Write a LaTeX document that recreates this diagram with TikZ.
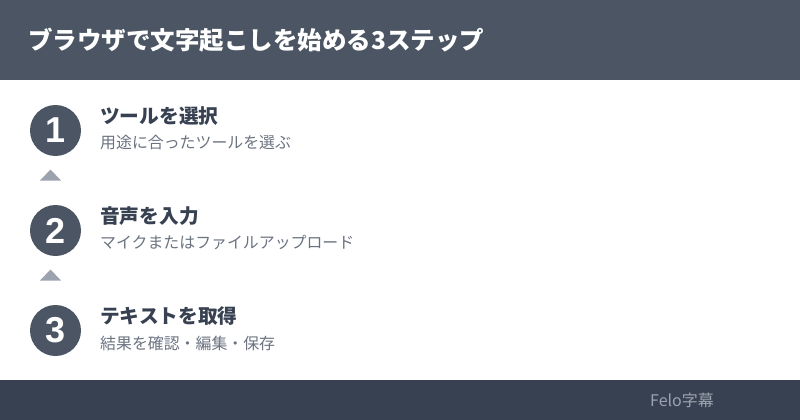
\documentclass[tikz,border=0pt]{standalone}
\usepackage{fontspec}
\setmainfont{Noto Sans CJK JP}
\newfontfamily\numfont{Liberation Sans}
\usetikzlibrary{
  positioning,
  calc
}
\definecolor{headbg}{HTML}{4B5563}
\definecolor{footbg}{HTML}{374151}
\definecolor{titlefg}{HTML}{374151}
\definecolor{descfg}{HTML}{6B7280}
\definecolor{markfg}{HTML}{9CA3AF}
\tikzset{
  stepnum/.style = {circle, fill=headbg, minimum size=51pt, inner sep=0pt,
                    text=white, font=\numfont\bfseries\fontsize{36}{36}\selectfont},
  steptitle/.style = {anchor=west, inner sep=0pt, text=titlefg,
                      font=\bfseries\fontsize{19.7}{19.7}\selectfont},
  stepdesc/.style = {anchor=west, inner sep=0pt, text=descfg,
                     font=\fontsize{15.9}{15.9}\selectfont},
  upmark/.style = {fill=markfg}
}

\begin{document}
\begin{tikzpicture}[x=1pt, y=-1pt]
    \useasboundingbox (0,0) rectangle (800,420);
    \fill[headbg] (0,0) rectangle (800,80);
    \fill[footbg] (0,380) rectangle (800,420);

    \node[anchor=west, inner sep=0pt, text=white,
          font=\bfseries\fontsize{24.5}{24.5}\selectfont] (title) at (28,40)
          {ブラウザで文字起こしを始める3ステップ};

    % steps
    \node[stepnum] (n1) at (55.5,130.5) {1};
    \node[stepnum] (n2) at (55.5,230.5) {2};
    \node[stepnum] (n3) at (55.5,330.5) {3};

    \node[steptitle] (t1) at (100,116) {ツールを選択};
    \node[stepdesc] (d1) at (100,143) {用途に合ったツールを選ぶ};
    \node[steptitle] (t2) at (100,216) {音声を入力};
    \node[stepdesc] (d2) at (100,243) {マイクまたはファイルアップロード};
    \node[steptitle] (t3) at (100,316) {テキストを取得};
    \node[stepdesc] (d3) at (100,343) {結果を確認・編集・保存};

    % markers between steps
    \coordinate (m1) at ($(n1)!0.5!(n2)+(-5,0)$);
    \coordinate (m2) at ($(n2)!0.5!(n3)+(-5,0)$);
    \fill[upmark] ($(m1)+(-10.5,0)$) -- ($(m1)+(10.5,0)$) -- ($(m1)+(0,-11)$) -- cycle;
    \fill[upmark] ($(m2)+(-10.5,0)$) -- ($(m2)+(10.5,0)$) -- ($(m2)+(0,-11)$) -- cycle;

    \node[anchor=west, inner sep=0pt, text=markfg,
          font=\fontsize{16}{16}\selectfont] (brand) at (650,400) {Felo字幕};
\end{tikzpicture}
\end{document}
